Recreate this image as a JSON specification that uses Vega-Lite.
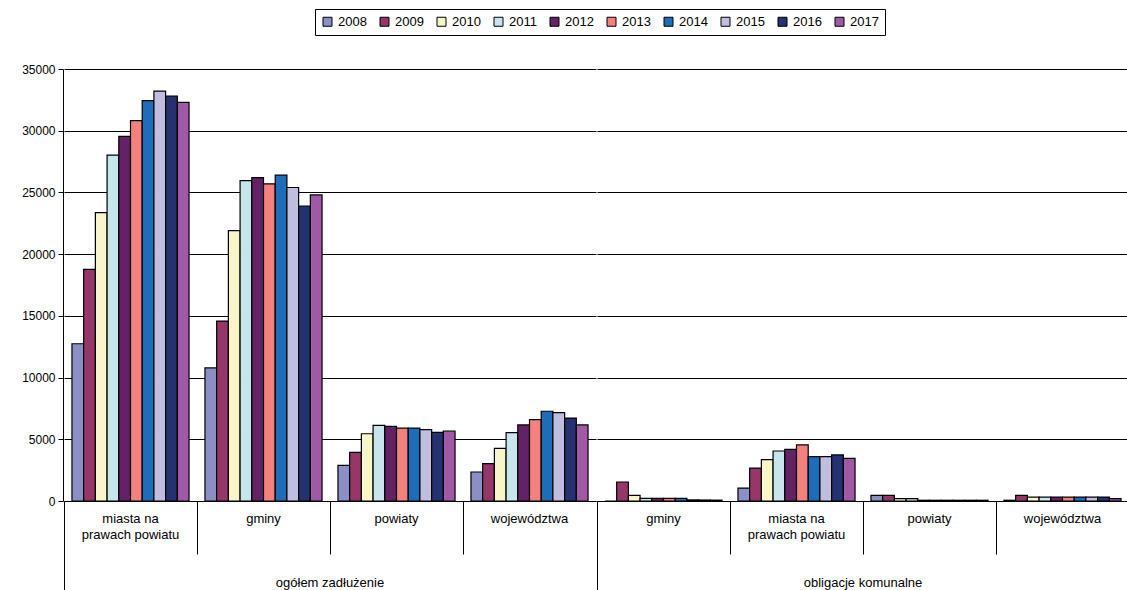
{
  "$schema": "https://vega.github.io/schema/vega-lite/v6.json",
  "background": "white",
  "padding": {"left": 5, "top": 8, "right": 0, "bottom": 0},
  "config": {
    "font": "Liberation Sans",
    "view": {"stroke": null},
    "axis": {"domainColor": "black", "tickColor": "black", "labelColor": "black", "labelFont": "Liberation Sans"}
  },
  "data": {
    "values": [
      {"main": "ogółem zadłużenie", "key": "A1", "year": "2008", "value": 12740},
      {"main": "ogółem zadłużenie", "key": "A1", "year": "2009", "value": 18770},
      {"main": "ogółem zadłużenie", "key": "A1", "year": "2010", "value": 23360},
      {"main": "ogółem zadłużenie", "key": "A1", "year": "2011", "value": 28030},
      {"main": "ogółem zadłużenie", "key": "A1", "year": "2012", "value": 29540},
      {"main": "ogółem zadłużenie", "key": "A1", "year": "2013", "value": 30810},
      {"main": "ogółem zadłużenie", "key": "A1", "year": "2014", "value": 32430},
      {"main": "ogółem zadłużenie", "key": "A1", "year": "2015", "value": 33200},
      {"main": "ogółem zadłużenie", "key": "A1", "year": "2016", "value": 32800},
      {"main": "ogółem zadłużenie", "key": "A1", "year": "2017", "value": 32300},
      {"main": "ogółem zadłużenie", "key": "A2", "year": "2008", "value": 10780},
      {"main": "ogółem zadłużenie", "key": "A2", "year": "2009", "value": 14580},
      {"main": "ogółem zadłużenie", "key": "A2", "year": "2010", "value": 21900},
      {"main": "ogółem zadłużenie", "key": "A2", "year": "2011", "value": 25950},
      {"main": "ogółem zadłużenie", "key": "A2", "year": "2012", "value": 26200},
      {"main": "ogółem zadłużenie", "key": "A2", "year": "2013", "value": 25700},
      {"main": "ogółem zadłużenie", "key": "A2", "year": "2014", "value": 26400},
      {"main": "ogółem zadłużenie", "key": "A2", "year": "2015", "value": 25400},
      {"main": "ogółem zadłużenie", "key": "A2", "year": "2016", "value": 23900},
      {"main": "ogółem zadłużenie", "key": "A2", "year": "2017", "value": 24800},
      {"main": "ogółem zadłużenie", "key": "A3", "year": "2008", "value": 2890},
      {"main": "ogółem zadłużenie", "key": "A3", "year": "2009", "value": 3940},
      {"main": "ogółem zadłużenie", "key": "A3", "year": "2010", "value": 5450},
      {"main": "ogółem zadłużenie", "key": "A3", "year": "2011", "value": 6130},
      {"main": "ogółem zadłużenie", "key": "A3", "year": "2012", "value": 6050},
      {"main": "ogółem zadłużenie", "key": "A3", "year": "2013", "value": 5910},
      {"main": "ogółem zadłużenie", "key": "A3", "year": "2014", "value": 5910},
      {"main": "ogółem zadłużenie", "key": "A3", "year": "2015", "value": 5780},
      {"main": "ogółem zadłużenie", "key": "A3", "year": "2016", "value": 5560},
      {"main": "ogółem zadłużenie", "key": "A3", "year": "2017", "value": 5670},
      {"main": "ogółem zadłużenie", "key": "A4", "year": "2008", "value": 2350},
      {"main": "ogółem zadłużenie", "key": "A4", "year": "2009", "value": 3020},
      {"main": "ogółem zadłużenie", "key": "A4", "year": "2010", "value": 4270},
      {"main": "ogółem zadłużenie", "key": "A4", "year": "2011", "value": 5540},
      {"main": "ogółem zadłużenie", "key": "A4", "year": "2012", "value": 6160},
      {"main": "ogółem zadłużenie", "key": "A4", "year": "2013", "value": 6590},
      {"main": "ogółem zadłużenie", "key": "A4", "year": "2014", "value": 7270},
      {"main": "ogółem zadłużenie", "key": "A4", "year": "2015", "value": 7160},
      {"main": "ogółem zadłużenie", "key": "A4", "year": "2016", "value": 6720},
      {"main": "ogółem zadłużenie", "key": "A4", "year": "2017", "value": 6160},
      {"main": "obligacje komunalne", "key": "B1", "year": "2008", "value": 0},
      {"main": "obligacje komunalne", "key": "B1", "year": "2009", "value": 1540},
      {"main": "obligacje komunalne", "key": "B1", "year": "2010", "value": 460},
      {"main": "obligacje komunalne", "key": "B1", "year": "2011", "value": 220},
      {"main": "obligacje komunalne", "key": "B1", "year": "2012", "value": 220},
      {"main": "obligacje komunalne", "key": "B1", "year": "2013", "value": 220},
      {"main": "obligacje komunalne", "key": "B1", "year": "2014", "value": 220},
      {"main": "obligacje komunalne", "key": "B1", "year": "2015", "value": 90},
      {"main": "obligacje komunalne", "key": "B1", "year": "2016", "value": 80},
      {"main": "obligacje komunalne", "key": "B1", "year": "2017", "value": 70},
      {"main": "obligacje komunalne", "key": "B2", "year": "2008", "value": 1050},
      {"main": "obligacje komunalne", "key": "B2", "year": "2009", "value": 2670},
      {"main": "obligacje komunalne", "key": "B2", "year": "2010", "value": 3350},
      {"main": "obligacje komunalne", "key": "B2", "year": "2011", "value": 4050},
      {"main": "obligacje komunalne", "key": "B2", "year": "2012", "value": 4180},
      {"main": "obligacje komunalne", "key": "B2", "year": "2013", "value": 4540},
      {"main": "obligacje komunalne", "key": "B2", "year": "2014", "value": 3590},
      {"main": "obligacje komunalne", "key": "B2", "year": "2015", "value": 3590},
      {"main": "obligacje komunalne", "key": "B2", "year": "2016", "value": 3730},
      {"main": "obligacje komunalne", "key": "B2", "year": "2017", "value": 3460},
      {"main": "obligacje komunalne", "key": "B3", "year": "2008", "value": 450},
      {"main": "obligacje komunalne", "key": "B3", "year": "2009", "value": 450},
      {"main": "obligacje komunalne", "key": "B3", "year": "2010", "value": 200},
      {"main": "obligacje komunalne", "key": "B3", "year": "2011", "value": 200},
      {"main": "obligacje komunalne", "key": "B3", "year": "2012", "value": 60},
      {"main": "obligacje komunalne", "key": "B3", "year": "2013", "value": 60},
      {"main": "obligacje komunalne", "key": "B3", "year": "2014", "value": 60},
      {"main": "obligacje komunalne", "key": "B3", "year": "2015", "value": 60},
      {"main": "obligacje komunalne", "key": "B3", "year": "2016", "value": 60},
      {"main": "obligacje komunalne", "key": "B3", "year": "2017", "value": 60},
      {"main": "obligacje komunalne", "key": "B4", "year": "2008", "value": 60},
      {"main": "obligacje komunalne", "key": "B4", "year": "2009", "value": 450},
      {"main": "obligacje komunalne", "key": "B4", "year": "2010", "value": 320},
      {"main": "obligacje komunalne", "key": "B4", "year": "2011", "value": 320},
      {"main": "obligacje komunalne", "key": "B4", "year": "2012", "value": 320},
      {"main": "obligacje komunalne", "key": "B4", "year": "2013", "value": 320},
      {"main": "obligacje komunalne", "key": "B4", "year": "2014", "value": 320},
      {"main": "obligacje komunalne", "key": "B4", "year": "2015", "value": 320},
      {"main": "obligacje komunalne", "key": "B4", "year": "2016", "value": 320},
      {"main": "obligacje komunalne", "key": "B4", "year": "2017", "value": 200}
    ]
  },
  "facet": {
    "column": {
      "field": "main",
      "type": "nominal",
      "sort": ["ogółem zadłużenie", "obligacje komunalne"],
      "header": {"title": null, "labelOrient": "bottom", "labelFontSize": 13, "labelFont": "Liberation Sans", "labelPadding": -15, "labelColor": "black"}
    }
  },
  "spacing": 0,
  "resolve": {"scale": {"x": "independent", "xOffset": "independent"}},
  "spec": {
    "width": 532,
    "height": 432,
    "mark": {"type": "bar", "stroke": "black", "strokeWidth": 1.2},
    "encoding": {
      "x": {
        "field": "key",
        "type": "nominal",
        "scale": {"paddingInner": 0, "paddingOuter": 0},
        "axis": {
          "title": null,
          "labelAngle": 0,
          "labelFontSize": 13,
          "bandPosition": 0,
          "tickSize": {"condition": {"test": "datum.value === 'A1' || datum.value === 'B1'", "value": 90}, "value": 53},
          "labelPadding": {"condition": {"test": "datum.value === 'A1' || datum.value === 'B1'", "value": -79}, "value": -42},
          "labelBaseline": "top",
          "labelLineHeight": 16,
          "labelExpr": "(datum.value === 'A1' || datum.value === 'B2') ? ['miasta na', 'prawach powiatu'] : (datum.value === 'A2' || datum.value === 'B1') ? 'gminy' : (datum.value === 'A3' || datum.value === 'B3') ? 'powiaty' : 'województwa'",
          "domainColor": "black"
        }
      },
      "xOffset": {"field": "year", "type": "nominal", "scale": {"paddingInner": 0, "paddingOuter": 0.68}},
      "y": {
        "field": "value",
        "type": "quantitative",
        "scale": {"domain": [0, 35000], "nice": false},
        "axis": {
          "title": null,
          "values": [0, 5000, 10000, 15000, 20000, 25000, 30000, 35000],
          "format": "d",
          "labelFontSize": 12,
          "tickSize": 5,
          "labelPadding": 3,
          "gridColor": "black",
          "gridOpacity": 1,
          "minExtent": 58,
          "maxExtent": 58
        }
      },
      "color": {
        "field": "year",
        "type": "nominal",
        "scale": {
          "domain": ["2008", "2009", "2010", "2011", "2012", "2013", "2014", "2015", "2016", "2017"],
          "range": ["#8C8FC6", "#963769", "#F8F6C8", "#C6E6EB", "#642266", "#F48080", "#1F6DB8", "#BFBEDF", "#253270", "#9F59A5"]
        },
        "legend": {
          "title": null,
          "orient": "none",
          "legendX": 251,
          "legendY": -60,
          "direction": "horizontal",
          "columns": 10,
          "strokeColor": "black",
          "padding": 6,
          "symbolType": "square",
          "symbolSize": 81,
          "symbolStrokeColor": "black",
          "symbolStrokeWidth": 1,
          "symbolOpacity": 1,
          "labelFontSize": 13,
          "labelColor": "black",
          "labelOffset": 4,
          "columnPadding": 11
        }
      }
    }
  }
}
